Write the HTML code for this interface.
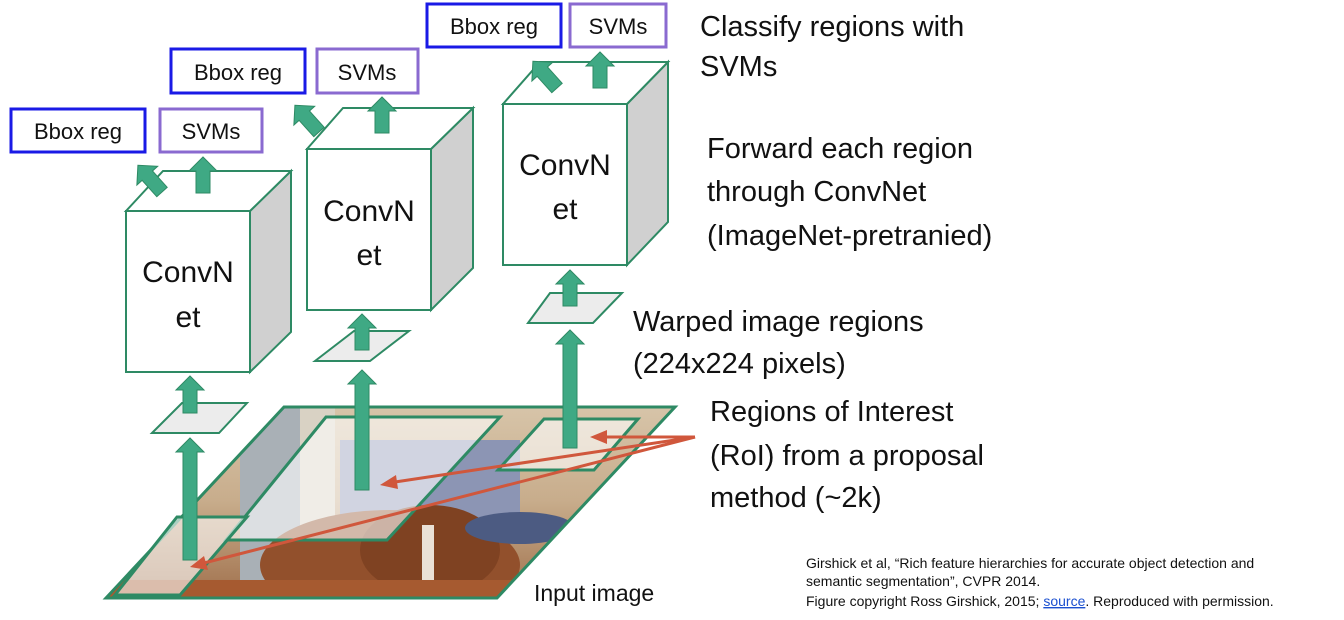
<!DOCTYPE html>
<html><head><meta charset="utf-8"><style>
html,body{margin:0;padding:0;background:#fff;}
svg{display:block;}
text{font-family:"Liberation Sans",sans-serif;fill:#111;}
</style></head><body>
<svg width="1344" height="620" viewBox="0 0 1344 620" xmlns="http://www.w3.org/2000/svg">
<defs>
<clipPath id="img"><polygon points="106,598 284,407 675,407 497,598"/></clipPath>
<linearGradient id="bg" x1="0" y1="0" x2="0" y2="1">
<stop offset="0" stop-color="#d8c6ab"/><stop offset="0.5" stop-color="#c8ad8c"/><stop offset="1" stop-color="#a0704c"/>
</linearGradient>
<g id="ua"><polygon points="-7,0 -7,-22 -14,-22 0,-36 14,-22 7,-22 7,0"/></g>
</defs>
<!-- input image -->
<g clip-path="url(#img)">
<rect x="100" y="400" width="600" height="200" fill="url(#bg)"/>
<rect x="240" y="405" width="60" height="200" fill="#a9b0b6"/>
<rect x="300" y="405" width="35" height="200" fill="#d9d2c4"/>
<rect x="340" y="440" width="180" height="80" fill="#8c95b4"/>
<ellipse cx="390" cy="565" rx="130" ry="55" fill="#92502c"/>
<ellipse cx="430" cy="550" rx="70" ry="45" fill="#7f4222"/>
<rect x="422" y="525" width="12" height="60" fill="#e9e0d6"/>
<ellipse cx="520" cy="528" rx="55" ry="16" fill="#4c5b82"/>
<rect x="100" y="580" width="450" height="25" fill="#a65a30"/>
</g>
<polygon points="106,598 284,407 675,407 497,598" fill="none" stroke="#2e8a64" stroke-width="3"/>
<!-- RoIs -->
<polygon points="226,540 326,417 500,417 387,540" fill="#fff" fill-opacity="0.6" stroke="#2e8a64" stroke-width="3"/>
<polygon points="498,470 544,419 638,419 594,470" fill="#fff" fill-opacity="0.6" stroke="#2e8a64" stroke-width="3"/>
<polygon points="115,595 177,517 247,517 180,595" fill="#fff" fill-opacity="0.6" stroke="#2e8a64" stroke-width="3"/>
<!-- warped small parallelograms -->
<polygon points="152,433 182,403 247,403 219,433" fill="#ececec" stroke="#2e8a64" stroke-width="2"/>
<polygon points="315,361 354,331 409,331 370,361" fill="#ececec" stroke="#2e8a64" stroke-width="2"/>
<polygon points="528,323 550,293 622,293 593,323" fill="#ececec" stroke="#2e8a64" stroke-width="2"/>
<!-- green arrows lower -->
<g fill="#3fa984" stroke="#2e8a64" stroke-width="1">
<polygon points="183,560 183,452 176,452 190,438 204,452 197,452 197,560"/>
<polygon points="355,490 355,384 348,384 362,370 376,384 369,384 369,490"/>
<polygon points="563,448 563,344 556,344 570,330 584,344 577,344 577,448"/>
<polygon points="183,413 183,390 176,390 190,376 204,390 197,390 197,413"/>
<polygon points="355,350 355,328 348,328 362,314 376,328 369,328 369,350"/>
<polygon points="563,306 563,284 556,284 570,270 584,284 577,284 577,306"/>
</g>
<!-- cubes -->
<g stroke="#2e8a64" stroke-width="2">
<polygon points="250,211 291,171 291,332 250,372" fill="#d0d0d0"/>
<polygon points="126,211 163,171 291,171 250,211" fill="#fff"/>
<rect x="126" y="211" width="124" height="161" fill="#fff"/>
<polygon points="431,149 473,108 473,268 431,310" fill="#d0d0d0"/>
<polygon points="307,149 343,108 473,108 431,149" fill="#fff"/>
<rect x="307" y="149" width="124" height="161" fill="#fff"/>
<polygon points="627,104 668,62 668,222 627,265" fill="#d0d0d0"/>
<polygon points="503,104 540,62 668,62 627,104" fill="#fff"/>
<rect x="503" y="104" width="124" height="161" fill="#fff"/>
</g>
<!-- top arrows -->
<g fill="#3fa984" stroke="#2e8a64" stroke-width="1">
<use href="#ua" transform="translate(203,193)"/>
<use href="#ua" transform="translate(382,133)"/>
<use href="#ua" transform="translate(600,88)"/>
<use href="#ua" transform="translate(162,192) rotate(-42)"/>
<use href="#ua" transform="translate(319,132) rotate(-42)"/>
<use href="#ua" transform="translate(557,88) rotate(-42)"/>
</g>
<g font-size="30" text-anchor="middle">
<text x="188" y="282">ConvN</text><text x="188" y="327">et</text>
<text x="369" y="221">ConvN</text><text x="369" y="265">et</text>
<text x="565" y="175">ConvN</text><text x="565" y="219">et</text>
</g>
<!-- boxes -->
<g fill="#fff" stroke-width="3">
<rect x="11" y="109" width="134" height="43" stroke="#1a1ae6"/>
<rect x="160" y="109" width="102" height="43" stroke="#8a6ad0"/>
<rect x="171" y="49" width="134" height="44" stroke="#1a1ae6"/>
<rect x="317" y="49" width="101" height="44" stroke="#8a6ad0"/>
<rect x="427" y="4" width="134" height="43" stroke="#1a1ae6"/>
<rect x="570" y="4" width="96" height="43" stroke="#8a6ad0"/>
</g>
<g font-size="22" text-anchor="middle">
<text x="78" y="139">Bbox reg</text><text x="211" y="139">SVMs</text>
<text x="238" y="80">Bbox reg</text><text x="367" y="80">SVMs</text>
<text x="494" y="34">Bbox reg</text><text x="618" y="34">SVMs</text>
</g>
<!-- red arrows -->
<g stroke="#d0573c" stroke-width="3" fill="#d0573c">
<line x1="695" y1="437" x2="605" y2="437"/>
<polygon points="590,437 607,430 607,444" stroke="none"/>
<line x1="695" y1="437" x2="395" y2="482"/>
<polygon points="380,485 396,475 398,489" stroke="none"/>
<line x1="695" y1="437" x2="204" y2="563"/>
<polygon points="190,567 204,556 208,570" stroke="none"/>
</g>
<!-- right text -->
<g font-size="29">
<text x="700" y="36">Classify regions with</text>
<text x="700" y="76">SVMs</text>
<text x="707" y="158">Forward each region</text>
<text x="707" y="201">through ConvNet</text>
<text x="707" y="245">(ImageNet-pretranied)</text>
<text x="633" y="331">Warped image regions</text>
<text x="633" y="373">(224x224 pixels)</text>
<text x="710" y="421">Regions of Interest</text>
<text x="710" y="465">(RoI) from a proposal</text>
<text x="710" y="507">method (~2k)</text>
</g>
<text x="534" y="601" font-size="23">Input image</text>
<g font-size="14">
<text x="806" y="568">Girshick et al, “Rich feature hierarchies for accurate object detection and</text>
<text x="806" y="586">semantic segmentation”, CVPR 2014.</text>
<text x="806" y="606">Figure copyright Ross Girshick, 2015; <tspan fill="#1a4fd0" text-decoration="underline">source</tspan>. Reproduced with permission.</text>
</g>
</svg>
</body></html>
